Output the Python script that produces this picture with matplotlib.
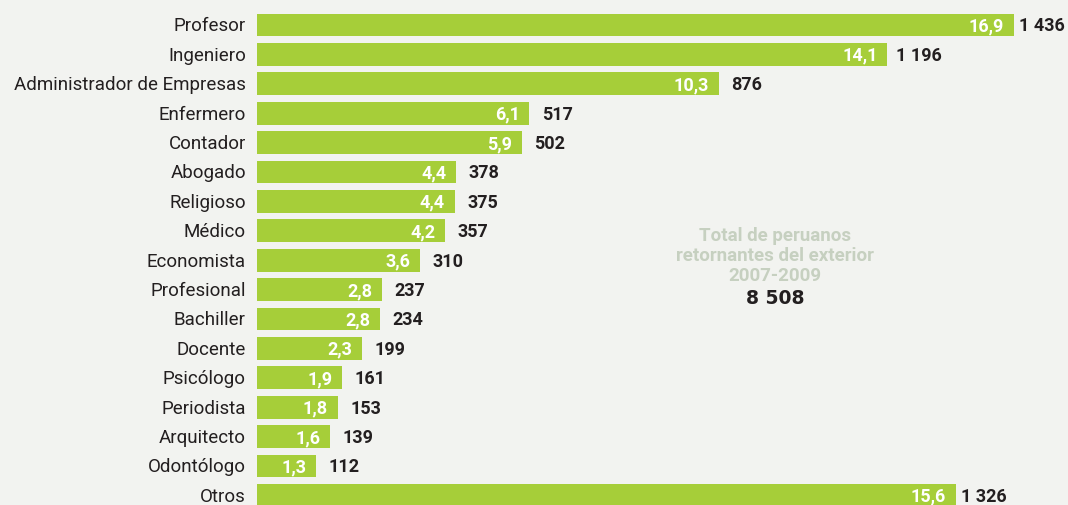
import matplotlib.pyplot as plt

# datos
categorias = ['Profesor', 'Ingeniero', 'Administrador de Empresas', 'Enfermero',
              'Contador', 'Abogado', 'Religioso', 'Médico', 'Economista',
              'Profesional', 'Bachiller', 'Docente', 'Psicólogo', 'Periodista',
              'Arquitecto', 'Odontólogo', 'Otros']
cantidad = [1436, 1196, 876, 517, 502, 378, 375, 357, 310, 237, 234, 199,
            161, 153, 139, 112, 1326]
porcentaje = ['16,9', '14,1', '10,3', '6,1', '5,9', '4,4', '4,4', '4,2', '3,6',
              '2,8', '2,8', '2,3', '1,9', '1,8', '1,6', '1,3', '15,6']
total = '8 508'

fuente = 'Roboto'
fondo = '#f2f3f0'
verde = '#a6ce39'
oscuro = '#231f20'

fig = plt.figure(figsize=(10.68, 5.05), dpi=100, facecolor=fondo)
ax = fig.add_axes([257 / 1068, 0, 1 - 257 / 1068, 1])
ax.set_facecolor(fondo)

y = list(range(len(categorias)))
ax.barh(y, cantidad, height=0.78, color=verde)
ax.set_xlim(0, 1539)
ax.set_ylim(16.327, -0.850)

for i, (c, p, n) in enumerate(zip(categorias, porcentaje, cantidad)):
    ax.annotate(c, (0, i), xytext=(-8, -1), textcoords='offset points',
                ha='right', va='center', fontsize=13.5, family=fuente,
                color=oscuro, annotation_clip=False)
    ax.annotate(p, (n, i), xytext=(-7, -1), textcoords='offset points',
                ha='right', va='center', fontsize=13, fontweight='bold',
                family=fuente, color='white')
    gap = 4 if n > 1300 else (6 if n > 1000 else 9)
    ax.annotate(f'{n:,}'.replace(',', ' '), (n, i), xytext=(gap, -1),
                textcoords='offset points', ha='left', va='center',
                fontsize=13, fontweight='bold', family=fuente, color=oscuro)

gris = '#c6d0c0'
lineas = ['Total de peruanos', 'retornantes del exterior', '2007-2009']
for texto, yp in zip(lineas, [236, 256, 276]):
    fig.text(775 / 1068, 1 - yp / 505, texto, ha='center', va='center',
             fontsize=13.5, fontweight='bold', family=fuente, color=gris)
fig.text(775 / 1068, 1 - 299 / 505, total, ha='center', va='center',
         fontsize=13.5, fontweight='bold', family='DejaVu Sans', color=oscuro)

ax.axis('off')
fig.savefig('out.png', dpi=100, facecolor=fondo)
